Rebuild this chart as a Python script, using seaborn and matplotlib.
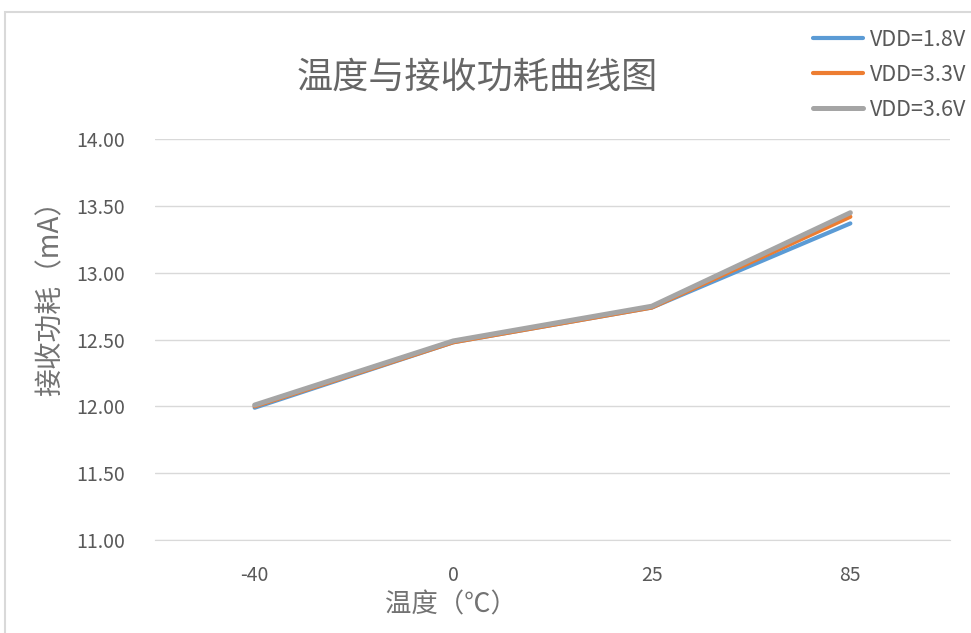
import pandas as pd
import seaborn as sns
import matplotlib.pyplot as plt
from matplotlib.patches import Rectangle

# data
temps = ["-40", "0", "25", "85"]
vdd_18 = [11.99, 12.48, 12.74, 13.37]
vdd_33 = [12.00, 12.48, 12.74, 13.42]
vdd_36 = [12.01, 12.49, 12.75, 13.45]
series_names = ["VDD=1.8V", "VDD=3.3V", "VDD=3.6V"]
y_ticks = [11.0, 11.5, 12.0, 12.5, 13.0, 13.5, 14.0]

rows = []
for name, vals in zip(series_names, [vdd_18, vdd_33, vdd_36]):
    for t, v in zip(temps, vals):
        rows.append({"temp": t, "current": v, "series": name})
df = pd.DataFrame(rows)

sns.set_style("white")
plt.rcParams["font.family"] = ["Noto Sans CJK SC", "DejaVu Sans"]

fig = plt.figure(figsize=(9.71, 6.33), dpi=100)
ax = fig.add_axes([0.160, 0.147, 0.818, 0.633])

# chart frame like the Excel chart area
fig.patches.append(Rectangle((5 / 971, -0.05), 1.1, 1 - 12 / 633 + 0.05,
                             transform=fig.transFigure, fill=False,
                             edgecolor="#d9d9d9", linewidth=1.5, zorder=0))

palette = {"VDD=1.8V": "#5B9BD5", "VDD=3.3V": "#ED7D31", "VDD=3.6V": "#A5A5A5"}
widths = {"VDD=1.8V": 3.0, "VDD=3.3V": 3.0, "VDD=3.6V": 3.6}
for name in series_names:
    sub = df[df["series"] == name]
    sns.lineplot(data=sub, x="temp", y="current", color=palette[name],
                 linewidth=widths[name], label=name, sort=False, ax=ax,
                 solid_capstyle="round")

ax.set_xlim(-0.5, 3.5)
ax.set_ylim(11, 14)
ax.set_yticks(y_ticks)
ax.set_yticklabels([f"{v:.2f}" for v in y_ticks])
ax.yaxis.grid(True, color="#d9d9d9", linewidth=1)
for s in ["top", "right", "left"]:
    ax.spines[s].set_visible(False)
ax.spines["bottom"].set_color("#d9d9d9")
ax.tick_params(axis="both", length=0, labelsize=14, colors="#595959")
ax.tick_params(axis="y", pad=22)
ax.tick_params(axis="x", pad=18)

ax.set_xlabel("温度（℃）", fontsize=19, color="#737373")
ax.set_ylabel("接收功耗（mA）", fontsize=20, color="#737373")
ax.xaxis.set_label_coords(0.372, -0.128)
ax.yaxis.set_label_coords(-0.113, 0.62)

fig.text(0.491, 0.878, "温度与接收功耗曲线图", ha="center", va="center",
         fontsize=26, color="#666666")

leg = ax.legend(loc="upper right", bbox_to_anchor=(1.015, 0.985),
                bbox_transform=fig.transFigure, frameon=False, fontsize=15.5,
                handlelength=2.35, labelspacing=0.6, handletextpad=0.3)
for t in leg.get_texts():
    t.set_color("#595959")

plt.savefig("out.png", dpi=100)
plt.close()
